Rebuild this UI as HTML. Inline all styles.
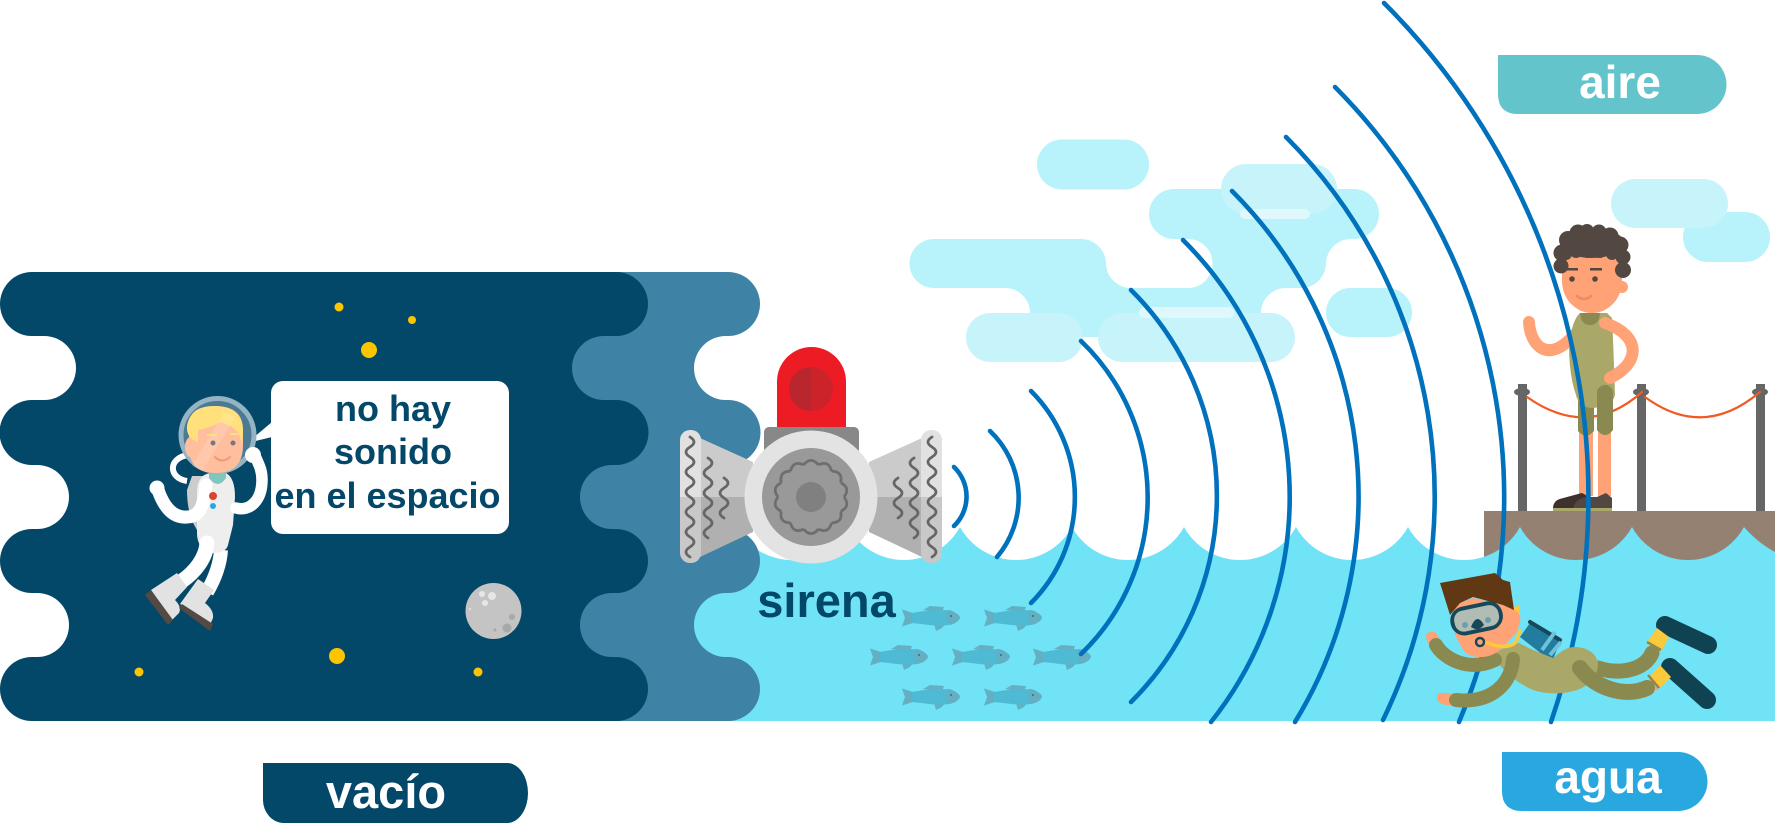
<!DOCTYPE html>
<html><head><meta charset="utf-8"><style>
html,body{margin:0;padding:0;background:#fff;width:1775px;height:826px;overflow:hidden}
svg{display:block}
text{font-family:"Liberation Sans",sans-serif;font-weight:bold;text-anchor:middle}
</style></head><body>
<svg width="1775" height="826" viewBox="0 0 1775 826" xmlns="http://www.w3.org/2000/svg">
<defs>
<g id="fish">
<path d="M0 -8.5L11 -5V5L0 8.5L3 0Z" fill="#65afc2"/>
<path d="M21 -8L28 -12L42 -11L40 -6Z" fill="#65afc2"/>
<path d="M32 6L34 13L40 10L43 6Z" fill="#65afc2"/>
<path d="M10 -5C25 -8 40 -9 50 -7Q58 -3 58 0Q56 5 47 7C35 9 22 6 10 5Z" fill="#4fbad3"/>
<path d="M45 -8Q50 -8 52 -6Q58 -3 58 0Q56 5 47 7Q43 0 45 -8Z" fill="#65afc2"/>
<circle cx="49" cy="-2" r="1" fill="#1b75a0"/>
</g>
<path id="bump" d="M-7.3 -32.2Q0 -41 7.3 -32.2" fill="none" stroke="#6e6e6e" stroke-width="2.800"/>
<g id="horn">
<path d="M700 438L753 462V497H700Z" fill="#cbcbcb"/>
<path d="M700 497H753V532L700 557Z" fill="#b0b0b0"/>
<path d="M690 430H691A10 10 0 0 1 701 440V497H680V440A10 10 0 0 1 690 430Z" fill="#e1e1e1"/>
<path d="M680 497H701V553A10 10 0 0 1 691 563H690A10 10 0 0 1 680 553Z" fill="#c8c8c8"/>
<g fill="none" stroke="#666" stroke-width="2.800" stroke-linecap="round">
<path d="M690 437q8 5 0 10t0 10t0 10t0 10t0 10t0 10t0 10t0 10t0 10t0 10t0 10t0 10"/>
<path d="M708 458q8 5 0 10t0 10t0 10t0 10t0 10t0 10t0 10t0 10"/>
<path d="M724 478q8 5 0 10t0 10t0 10t0 10"/>
</g>
</g>
</defs>

<!-- clouds -->
<g fill="#b8f2fb">
<rect x="1037" y="139.500" width="112" height="50" rx="25"/>
<path d="M1174 189H1354A25 25 0 0 1 1354 239H1351A25 25 0 0 0 1326 263.500A25 25 0 0 1 1301 288H1286A25 25 0 0 0 1261 312.500V337H1030V312A25 25 0 0 0 1005 288H934A24.500 24.500 0 0 1 934 239H1081A25 25 0 0 1 1106 263.500A25 25 0 0 0 1130 288H1188A24.500 24.500 0 0 0 1188 239H1174A25 25 0 0 1 1174 189Z"/>
<rect x="1326" y="288" width="86" height="49" rx="24.500"/>
<rect x="1683" y="212" width="87" height="50" rx="25"/>
</g>
<g fill="#c7f3fa">
<rect x="1221" y="164" width="116" height="50" rx="25"/>
<rect x="966" y="313" width="117" height="49" rx="24.500"/>
<rect x="1098" y="313" width="197" height="49" rx="24.500"/>
<rect x="1611" y="179" width="117" height="49" rx="24.500"/>
</g>
<g fill="#dff8fc">
<rect x="1240" y="209" width="70" height="10" rx="5"/>
<rect x="1139" y="307" width="95" height="11" rx="5"/>
</g>

<!-- dock -->
<rect x="1484" y="511" width="291" height="60" fill="#958172"/>

<!-- water -->
<path d="M660 721V527H736A64 64 0 0 0 848 527A64 64 0 0 0 960 527A64 64 0 0 0 1072 527A64 64 0 0 0 1184 527A64 64 0 0 0 1296 527A64 64 0 0 0 1408 527A64 64 0 0 0 1520 527A64 64 0 0 0 1632 527A64 64 0 0 0 1744 527Q1758 543 1775 552V721Z" fill="#70e3f6"/>

<!-- medium band -->
<path d="M500 272H728A32 32 0 0 1 728 336H726A32 32 0 0 0 726 400H728A32.500 32.500 0 0 1 728 465H726A32 32 0 0 0 726 529H728A32 32 0 0 1 728 593H726A32 32 0 0 0 726 657H728A32 32 0 0 1 728 721H500Z" fill="#3e83a6"/>
<!-- dark band -->
<path d="M32 272H616A32 32 0 0 1 616 336H604A32 32 0 0 0 604 400H616A32.500 32.500 0 0 1 616 465H612A32 32 0 0 0 612 529H616A32 32 0 0 1 616 593H612A32 32 0 0 0 612 657H616A32 32 0 0 1 616 721H32A32 32 0 0 1 32 657H37A32 32 0 0 0 37 593H32A32 32 0 0 1 32 529H37A32 32 0 0 0 37 465H32A32.500 32.500 0 0 1 32 400H44A32 32 0 0 0 44 336H32A32 32 0 0 1 32 272Z" fill="#034769"/>

<!-- stars -->
<g fill="#fcc500">
<circle cx="339" cy="307" r="4.500"/><circle cx="412" cy="320" r="4"/><circle cx="369" cy="350" r="8"/>
<circle cx="337" cy="656" r="8"/><circle cx="139" cy="672" r="4.500"/><circle cx="478" cy="672" r="4.500"/>
</g>
<!-- moon -->
<circle cx="493.500" cy="611" r="28" fill="#c4c4c4"/>
<g fill="#e6e6e6"><circle cx="492" cy="596" r="4"/><circle cx="482" cy="594" r="3"/><circle cx="485" cy="603" r="3"/><circle cx="470" cy="609" r="1"/></g>
<g fill="#a8a8a8"><circle cx="507" cy="628" r="4.500"/><circle cx="512" cy="617" r="3"/><circle cx="495" cy="630" r="1.500"/></g>

<!-- bubble -->
<rect x="271" y="381" width="238" height="153" rx="12" fill="#fff"/>
<path d="M272 422L247 443L272 437Z" fill="#fff"/>
<g fill="#034769" font-size="36">
<text x="393" y="421">no hay</text>
<text x="393" y="464">sonido</text>
<text x="387.500" y="508">en el espacio</text>
</g>

<!-- astronaut -->
<g>
<path d="M188 455C168 458 168 478 187 481" fill="none" stroke="#fff" stroke-width="6"/>
<path d="M192 476H205V532L197 530Q187 515 187 490Z" fill="#ccc"/>
<circle cx="217.500" cy="435" r="36.500" fill="#4b7a93" stroke="#95b4c3" stroke-width="5"/>
<path d="M221 550C220 565 214 580 207 592" fill="none" stroke="#fff" stroke-width="14"/>
<path d="M210 473Q198 475 197 490L197 533Q197 550 213 553Q226 553 228 545L233 525L235 497Q235 478 226 473Z" fill="#eee"/>
<path d="M209 473H226V478Q218 490 209 478Z" fill="#7fc6bd"/>
<path d="M158 490C165 510 175 518 187 517C200 517 204 505 206 485" fill="none" stroke="#fff" stroke-width="13" stroke-linecap="round"/>
<circle cx="157" cy="488" r="7.500" fill="#fff"/>
<path d="M236 508C250 512 262 500 262 480C262 470 259 465 256 458" fill="none" stroke="#fff" stroke-width="11.500" stroke-linecap="round"/>
<circle cx="253" cy="455" r="8" fill="#fff"/>
<ellipse cx="191" cy="447" rx="6" ry="10" fill="#ffbf9e"/>
<path d="M189 425Q189 406 215 406Q243 406 243 430V445Q243 473 216 473Q189 473 189 447Z" fill="#ffbf9e"/>
<path d="M198 442Q186 438 187 426Q190 406 215 406Q243 407 243 432L242 443L238 432Q230 424 220 422Q210 428 198 430Z" fill="#ffe07a"/>
<path d="M192 466L224 412L236 416L202 471Z" fill="#fff" opacity=".14"/>
<path d="M207 435H217M230 434H238" stroke="#ffe07a" stroke-width="2"/>
<circle cx="213" cy="443" r="2.500" fill="#777"/><circle cx="233" cy="443" r="2.500" fill="#777"/>
<path d="M215 457Q222 464 230 457" fill="none" stroke="#ee9a79" stroke-width="2" stroke-linecap="round"/>
<circle cx="213" cy="496" r="4" fill="#d9452e"/><circle cx="213" cy="506" r="3" fill="#29a8e0"/>
<path d="M207 543C206 558 195 572 182 581" fill="none" stroke="#fff" stroke-width="15" stroke-linecap="round"/>
<path d="M177 573L187 587L175 600Q182 607 179 613L172 620L151 590Z" fill="#e2e2e2"/>
<path d="M145 595L151 590L173 620L168 625Z" fill="#544a44"/>
<path d="M198 579L214 590L205 603Q214 610 213 618L210 625L180 604Z" fill="#e2e2e2"/>
<path d="M179 608L182 604L213 624L210 631Z" fill="#544a44"/>
</g>

<!-- siren -->
<path d="M777 427V381.500A34.500 34.500 0 0 1 846 381.500V427Z" fill="#ed1c24"/>
<circle cx="811" cy="389" r="22" fill="#cc2229"/>
<path d="M811 367A22 22 0 0 0 811 411Z" fill="#b9262e"/>
<rect x="764" y="427" width="95" height="40" rx="5" fill="#888"/>
<use href="#horn"/>
<use href="#horn" transform="translate(1622 0) scale(-1 1)"/>
<circle cx="811" cy="497" r="66.500" fill="#e3e3e3"/>
<circle cx="811" cy="497" r="49" fill="#999"/>
<g transform="translate(811 497)">
<use href="#bump"/><use href="#bump" transform="rotate(25.7)"/><use href="#bump" transform="rotate(51.4)"/><use href="#bump" transform="rotate(77.1)"/><use href="#bump" transform="rotate(102.900)"/><use href="#bump" transform="rotate(128.600)"/><use href="#bump" transform="rotate(154.300)"/><use href="#bump" transform="rotate(180)"/><use href="#bump" transform="rotate(205.700)"/><use href="#bump" transform="rotate(231.400)"/><use href="#bump" transform="rotate(257.100)"/><use href="#bump" transform="rotate(282.900)"/><use href="#bump" transform="rotate(308.600)"/><use href="#bump" transform="rotate(334.300)"/>
</g>
<circle cx="811" cy="497" r="15" fill="#808080"/>
<text x="826.500" y="617" font-size="47" fill="#034769">sirena</text>

<!-- fish -->
<use href="#fish" x="902" y="618"/><use href="#fish" x="984" y="618"/>
<use href="#fish" x="870" y="657"/><use href="#fish" x="952" y="657"/><use href="#fish" x="1033" y="657"/>
<use href="#fish" x="902" y="697"/><use href="#fish" x="984" y="697"/>

<!-- posts and ropes -->
<g fill="#666">
<rect x="1518" y="384" width="9" height="127"/><ellipse cx="1522" cy="392" rx="8" ry="4"/>
<rect x="1637" y="384" width="9" height="127"/><ellipse cx="1641" cy="392" rx="8" ry="4"/>
<rect x="1756" y="384" width="9" height="127"/><ellipse cx="1760" cy="392" rx="8" ry="4"/>
</g>
<g fill="none" stroke="#f15a24" stroke-width="2.200" stroke-linecap="round">
<path d="M1527 397Q1588 440 1642 392"/>
<path d="M1645 397Q1703 440 1760 392"/>
</g>

<!-- boy -->
<g>
<path d="M1529 322C1530 345 1548 365 1574 335" fill="none" stroke="#ffa275" stroke-width="12" stroke-linecap="round"/>
<path d="M1579 425H1593V496H1579ZM1598 425H1611V496H1598Z" fill="#ffa275"/>
<path d="M1578 395H1594V431Q1586 440 1578 431Z" fill="#8a8a50"/>
<path d="M1569 345Q1572 320 1580 313H1607L1612 318Q1614 360 1615 395Q1612 408 1590 408Q1578 405 1576 395Q1569 375 1569 345Z" fill="#aaa868"/>
<path d="M1580 313H1600Q1599 325 1590 325Q1581 325 1580 313Z" fill="#8a8a50"/>
<path d="M1597 393A8 8 0 0 1 1613 393V430Q1605 440 1597 430Z" fill="#8a8a50"/>
<path d="M1605 323C1640 335 1642 362 1610 378" fill="none" stroke="#ffa275" stroke-width="12" stroke-linecap="round"/>
<path d="M1553 510Q1553 501 1560 499L1582 493L1590 497H1597L1606 493L1612 498V509H1553Z" fill="#534741"/>
<path d="M1553 509Q1553 501 1560 499L1582 493L1587 497Q1575 498 1573 509Z" fill="#3e302c"/>
<rect x="1553" y="508" width="59" height="3" fill="#aaa868"/>
<circle cx="1622" cy="287" r="6" fill="#ffa275"/>
<path d="M1562 255H1622V281A30 32 0 0 1 1562 281Z" fill="#ffa275"/>
<g fill="#534741">
<ellipse cx="1592" cy="243" rx="32" ry="15"/>
<circle cx="1561" cy="266" r="7.500"/><circle cx="1562" cy="253" r="8.500"/><circle cx="1568" cy="240" r="9"/><circle cx="1578" cy="233" r="8.500"/><circle cx="1587" cy="231" r="7"/><circle cx="1599" cy="232" r="7.500"/><circle cx="1610" cy="236" r="8.500"/><circle cx="1620" cy="245" r="8.500"/><circle cx="1623" cy="257" r="7.500"/><circle cx="1623" cy="270" r="8"/><circle cx="1612" cy="254" r="6"/><circle cx="1600" cy="252" r="6"/><circle cx="1588" cy="252" r="6"/><circle cx="1576" cy="252" r="6"/><circle cx="1566" cy="254" r="6"/>
<circle cx="1572" cy="279" r="2.800"/><circle cx="1595" cy="279" r="2.800"/>
<rect x="1566" y="268" width="12" height="2.500"/><rect x="1590" y="268" width="12" height="2.500"/>
</g>
<path d="M1577 296Q1584 302 1591 296" fill="none" stroke="#ee8a66" stroke-width="2.500" stroke-linecap="round"/>
</g>

<!-- sound arcs -->
<g fill="none" stroke="#0071bc" stroke-width="4.600" stroke-linecap="round">
<path d="M954 467A41 41 0 0 1 954 526"/>
<path d="M990 431A92 92 0 0 1 997 557"/>
<path d="M1031 391A150 150 0 0 1 1031 603"/>
<path d="M1081 341A217 217 0 0 1 1081 654"/>
<path d="M1131 290A290 290 0 0 1 1131 702"/>
<path d="M1183 240A362 362 0 0 1 1211 722"/>
<path d="M1232 191A432 432 0 0 1 1295 722"/>
<path d="M1286 137A509 509 0 0 1 1383 720"/>
<path d="M1335 87A582 582 0 0 1 1459 722"/>
<path d="M1384 3A698 698 0 0 1 1551 722"/>
</g>

<!-- diver -->
<g>
<path d="M1665 625L1708 645" stroke="#0f4352" stroke-width="18" stroke-linecap="round"/>
<path d="M1670 667L1707 700" stroke="#0f4352" stroke-width="18" stroke-linecap="round"/>
<path d="M1426 635Q1430 630 1435 632L1442 642L1433 650Q1426 642 1426 635Z" fill="#ffa275"/>
<path d="M1440 693H1452V705H1446Q1437 703 1437 698Q1437 693 1440 693Z" fill="#ffa275"/>
<path d="M1648 648L1662 645L1656 660Z" fill="#ffa275"/>
<path d="M1650 678L1661 675L1658 690L1648 692Z" fill="#ffa275"/>
<path d="M1657 628L1669 637L1661 652L1647 642Z" fill="#fbc93c"/>
<path d="M1660 665L1671 677L1660 688L1649 677Z" fill="#fbc93c"/>
<path d="M1647 642L1661 650M1648 675L1659 688" stroke="#8a8a50" stroke-width="2.500"/>
<path d="M1598 668C1620 675 1645 670 1652 653" fill="none" stroke="#8a8a50" stroke-width="15" stroke-linecap="round"/>
<path d="M1520 637L1530 623L1560 642L1552 662Z" fill="#217c9e"/>
<path d="M1530 622L1560 640" stroke="#17485a" stroke-width="4" stroke-linecap="round"/>
<path d="M1542 650L1555 632M1550 655L1561 642" stroke="#6fc2da" stroke-width="4"/>
<path d="M1493 653C1498 668 1515 682 1533 690C1548 695 1565 694 1577 690C1590 686 1598 675 1598 663C1596 652 1585 647 1575 647C1565 647 1560 653 1553 658L1533 650L1517 642Z" fill="#aaa868"/>
<path d="M1436 645C1445 660 1470 672 1495 660" fill="none" stroke="#8a8a50" stroke-width="14" stroke-linecap="round"/>
<path d="M1513 659C1512 680 1495 704 1456 700" fill="none" stroke="#8a8a50" stroke-width="14" stroke-linecap="round"/>
<path d="M1580 668C1595 688 1625 698 1647 688" fill="none" stroke="#8a8a50" stroke-width="16" stroke-linecap="round"/>
<path d="M1503 608L1519 606L1520 617L1508 621Z" fill="#fbc93c"/>
<path d="M1452 615Q1455 605 1460 603L1473 598L1503 605L1515 610Q1522 615 1520 622L1517 632L1500 650Q1490 658 1478 657Q1466 656 1462 648L1455 635Z" fill="#ffa275"/>
<path d="M1440 583L1495 573L1503 580L1510 582L1514 610L1503 605L1473 597L1460 603L1450 615Z" fill="#603813"/>
<rect x="1450" y="604" width="53" height="29" rx="14" transform="rotate(-12 1476 618)" fill="#17485a"/>
<rect x="1454" y="608" width="45" height="21" rx="9" transform="rotate(-12 1476 618)" fill="#b0bcb4"/>
<path d="M1471 627Q1477 612 1484 625Q1478 632 1471 627Z" fill="#17485a"/>
<circle cx="1465" cy="625" r="3" fill="#6f9db0"/><circle cx="1488" cy="620" r="3" fill="#6f9db0"/>
<path d="M1484 642C1500 648 1510 648 1516 642L1520 631" fill="none" stroke="#fbc93c" stroke-width="3.500" stroke-linecap="round"/>
<circle cx="1480" cy="642" r="4" fill="#ffa275" stroke="#17485a" stroke-width="2.500"/>
</g>

<!-- labels -->
<path d="M1498 55H1697A29.500 29.500 0 0 1 1697 114H1518Q1498 114 1498 94Z" fill="#64c4cc"/>
<text x="1620" y="98" font-size="46" fill="#fff">aire</text>
<path d="M1502 752H1678A29.500 29.500 0 0 1 1678 811H1522Q1502 811 1502 791Z" fill="#29a8e0"/>
<text x="1608" y="793" font-size="46" fill="#fff">agua</text>
<path d="M263 763H507A21 30 0 0 1 507 823H284A21 23 0 0 1 263 800Z" fill="#034769"/>
<text x="386" y="808" font-size="47" fill="#fff">vacío</text>
</svg>
</body></html>
